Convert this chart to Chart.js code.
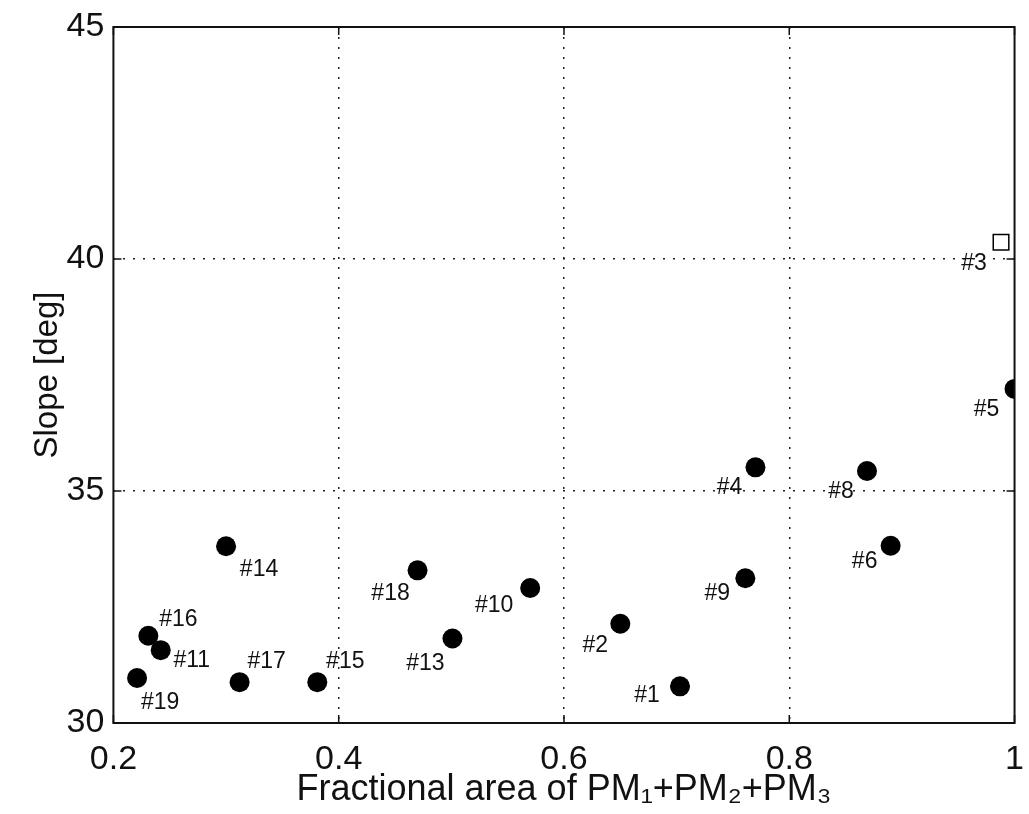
<!DOCTYPE html>
<html>
<head>
<meta charset="utf-8">
<script src="https://cdn.jsdelivr.net/npm/chart.js@4.4.1/dist/chart.umd.min.js"></script>
<style>
  html, body { margin: 0; padding: 0; background: #fff; overflow: hidden; }
  #wrap { width: 1044px; height: 814px; }
</style>
</head>
<body>
<div id="wrap"><canvas id="slopeChart" width="1044" height="814"></canvas></div>
<script>
// filled markers
const pointIds = ["#1", "#2", "#4", "#5", "#6", "#8", "#9", "#10", "#11", "#13", "#14", "#15", "#16", "#17", "#18", "#19"];
const fracArea = [0.703, 0.650, 0.770, 1.000, 0.890, 0.869, 0.761, 0.570, 0.242, 0.501, 0.300, 0.381, 0.231, 0.312, 0.470, 0.221];
const slopeDeg = [30.79, 32.14, 35.51, 37.20, 33.82, 35.43, 33.12, 32.91, 31.57, 31.82, 33.81, 30.88, 31.88, 30.88, 33.29, 30.97];

// open square marker
const squareIds = ["#3"];
const squareArea = [0.988];
const squareSlope = [40.36];

const xTicks = [0.2, 0.4, 0.6, 0.8, 1];
const yTicks = [30, 35, 40, 45];

// label placement relative to the marker (px)
const labelOffsets = {
  "#1": [-33, 9], "#2": [-25, 22], "#3": [-27, 21], "#4": [-26, 20], "#5": [-28, 21],
  "#6": [-26, 16], "#8": [-26, 21], "#9": [-28, 15], "#10": [-36, 18], "#11": [31, 11],
  "#13": [-27, 25], "#14": [33, 23], "#15": [28, -21], "#16": [30, -16], "#17": [27, -21],
  "#18": [-27, 23], "#19": [23, 25]
};

const FONT = "'Liberation Sans', Arial, Helvetica, sans-serif";
const INK = "#111";

const toXY = (xs, ys) => xs.map((x, i) => ({ x: x, y: ys[i] }));

const hideEdge = (scale) => (ctx) => {
  const v = ctx.tick && ctx.tick.value;
  return (v === scale.min || v === scale.max) ? "rgba(0,0,0,0)" : "#222";
};

const framePlugin = {
  id: "frame",
  afterDraw(chart) {
    const { ctx, chartArea: a, scales } = chart;
    ctx.save();
    ctx.strokeStyle = INK;
    ctx.lineWidth = 2;
    ctx.strokeRect(a.left, a.top, a.right - a.left, a.bottom - a.top);
    ctx.lineWidth = 1.5;
    ctx.beginPath();
    const tl = 8;
    scales.x.ticks.forEach((t) => {
      const px = scales.x.getPixelForValue(t.value);
      ctx.moveTo(px, a.bottom); ctx.lineTo(px, a.bottom - tl);
      ctx.moveTo(px, a.top); ctx.lineTo(px, a.top + tl);
    });
    scales.y.ticks.forEach((t) => {
      const py = scales.y.getPixelForValue(t.value);
      ctx.moveTo(a.left, py); ctx.lineTo(a.left + tl, py);
      ctx.moveTo(a.right, py); ctx.lineTo(a.right - tl, py);
    });
    ctx.stroke();
    ctx.restore();
  }
};

const labelPlugin = {
  id: "pointLabels",
  afterDatasetsDraw(chart) {
    const { ctx } = chart;
    ctx.save();
    ctx.font = "23px " + FONT;
    ctx.fillStyle = INK;
    ctx.textAlign = "center";
    ctx.textBaseline = "middle";
    chart.data.datasets.forEach((ds, di) => {
      const meta = chart.getDatasetMeta(di);
      meta.data.forEach((el, i) => {
        const id = ds.ids[i];
        const off = labelOffsets[id] || [0, 0];
        ctx.fillText(id, el.x + off[0], el.y + off[1]);
      });
    });
    ctx.restore();
  }
};

const ctx = document.getElementById("slopeChart").getContext("2d");
new Chart(ctx, {
  type: "scatter",
  data: {
    datasets: [
      {
        label: "filled",
        ids: pointIds,
        data: toXY(fracArea, slopeDeg),
        pointStyle: "circle",
        pointRadius: 10,
        pointHoverRadius: 10,
        backgroundColor: "#000",
        borderColor: "#000",
        borderWidth: 0,
        clip: 0
      },
      {
        label: "open",
        ids: squareIds,
        data: toXY(squareArea, squareSlope),
        pointStyle: "rect",
        pointRadius: 11,
        pointHoverRadius: 11,
        backgroundColor: "#fff",
        borderColor: "#000",
        borderWidth: 1.5,
        clip: 0
      }
    ]
  },
  options: {
    responsive: false,
    animation: false,
    events: [],
    layout: { padding: { left: 28, right: 12, top: 27, bottom: 3 } },
    plugins: {
      legend: { display: false },
      tooltip: { enabled: false }
    },
    scales: {
      x: {
        type: "linear",
        min: 0.2,
        max: 1,
        afterBuildTicks: (s) => { s.ticks = xTicks.map((v) => ({ value: v })); },
        grid: {
          drawTicks: false,
          lineWidth: 1.5,
          color: (c) => hideEdge(c.chart.scales.x)(c)
        },
        border: { display: false, dash: [2, 8] },
        ticks: {
          padding: 20,
          color: INK,
          font: { family: FONT, size: 34, lineHeight: 1 },
          maxRotation: 0,
          callback: (v) => (v === 1 ? "1" : Number(v).toFixed(1))
        },
        title: {
          display: true,
          text: "Fractional area of PM\u2081+PM\u2082+PM\u2083",
          color: INK,
          font: { family: FONT, size: 36, lineHeight: 1 },
          padding: { top: -25, bottom: 3 }
        }
      },
      y: {
        type: "linear",
        min: 30,
        max: 45,
        afterBuildTicks: (s) => { s.ticks = yTicks.map((v) => ({ value: v })); },
        grid: {
          drawTicks: false,
          lineWidth: 1.5,
          color: (c) => hideEdge(c.chart.scales.y)(c)
        },
        border: { display: false, dash: [2, 8] },
        ticks: {
          padding: 9,
          color: INK,
          font: { family: FONT, size: 34, lineHeight: 1 },
          callback: (v) => String(v)
        },
        title: {
          display: true,
          text: "Slope [deg]",
          color: INK,
          font: { family: FONT, size: 33, lineHeight: 1.2 },
          padding: { top: 0, bottom: -10 }
        }
      }
    }
  },
  plugins: [framePlugin, labelPlugin]
});
</script>
</body>
</html>
